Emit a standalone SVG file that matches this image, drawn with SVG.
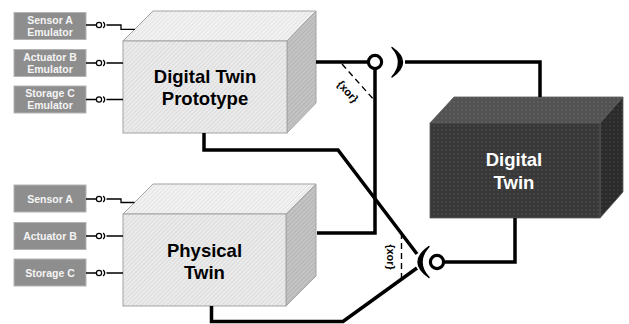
<svg xmlns="http://www.w3.org/2000/svg" width="629" height="324" viewBox="0 0 629 324">
  <defs>
    <!-- fine diagonal hatching for the light boxes -->
    <pattern id="hatchFront" width="3" height="3" patternUnits="userSpaceOnUse" patternTransform="rotate(45)">
      <rect width="3" height="3" fill="#ebebeb"/>
      <line x1="0" y1="0" x2="0" y2="3" stroke="#d0d0d0" stroke-width="1.2"/>
    </pattern>
    <pattern id="hatchTop" width="3" height="3" patternUnits="userSpaceOnUse" patternTransform="rotate(45)">
      <rect width="3" height="3" fill="#f2f2f2"/>
      <line x1="0" y1="0" x2="0" y2="3" stroke="#dcdcdc" stroke-width="1.2"/>
    </pattern>
    <pattern id="hatchSide" width="3" height="3" patternUnits="userSpaceOnUse" patternTransform="rotate(45)">
      <rect width="3" height="3" fill="#c4c4c4"/>
      <line x1="0" y1="0" x2="0" y2="3" stroke="#a9a9a9" stroke-width="1.2"/>
    </pattern>
    <!-- mesh texture for the dark box -->
    <pattern id="meshFront" width="4" height="4" patternUnits="userSpaceOnUse">
      <rect width="4" height="4" fill="#383838"/>
      <circle cx="2" cy="2" r="1.1" fill="#474747"/>
    </pattern>
    <pattern id="meshTop" width="4" height="4" patternUnits="userSpaceOnUse">
      <rect width="4" height="4" fill="#525252"/>
      <circle cx="2" cy="2" r="1.1" fill="#606060"/>
    </pattern>
    <pattern id="meshSide" width="4" height="4" patternUnits="userSpaceOnUse">
      <rect width="4" height="4" fill="#2b2b2b"/>
      <circle cx="2" cy="2" r="1.1" fill="#383838"/>
    </pattern>
  </defs>
  <style>
    .face { stroke: #a3a3a3; stroke-width: 1; }
    .dface { stroke: #5a5a5a; stroke-width: 0.8; }
    .port { fill: #8e8e8e; stroke: #b4b4b4; stroke-width: 1; }
    .portText { font-family: "Liberation Sans", Arial, sans-serif; font-weight: bold; font-size: 10.5px; fill: #f4f4f4; text-anchor: middle; }
    .bigText { font-family: "Liberation Sans", Arial, sans-serif; font-weight: bold; font-size: 18.5px; text-anchor: middle; }
    .thin { fill: none; stroke: #000; stroke-width: 1.3; }
    .thick { fill: none; stroke: #000; stroke-width: 3.5; stroke-linejoin: miter; }
    .ring { fill: #fff; stroke: #000; stroke-width: 3.2; }
    .sring { fill: #fff; stroke: #000; stroke-width: 1.2; }
    .dash { fill: none; stroke: #000; stroke-width: 1.4; stroke-dasharray: 6 4; }
    .xor { font-family: "Liberation Sans", Arial, sans-serif; font-weight: bold; font-size: 11px; fill: #000; text-anchor: middle; }
  </style>

  <!-- emulator ports -->
  <g id="sensor-a-emulator">
    <rect class="port" x="14" y="12.5" width="72" height="27"/>
    <text class="portText" x="50" y="24">Sensor A</text>
    <text class="portText" x="50" y="36">Emulator</text>
  </g>
  <g id="actuator-b-emulator">
    <rect class="port" x="14" y="49.5" width="72" height="27"/>
    <text class="portText" x="50" y="60.5">Actuator B</text>
    <text class="portText" x="50" y="72.5">Emulator</text>
  </g>
  <g id="storage-c-emulator">
    <rect class="port" x="14" y="86" width="72" height="27"/>
    <text class="portText" x="50" y="97">Storage C</text>
    <text class="portText" x="50" y="109">Emulator</text>
  </g>

  <!-- physical ports -->
  <g id="sensor-a">
    <rect class="port" x="14" y="185" width="72" height="27"/>
    <text class="portText" x="50" y="202.5">Sensor A</text>
  </g>
  <g id="actuator-b">
    <rect class="port" x="14" y="222.5" width="72" height="27"/>
    <text class="portText" x="50" y="239.5">Actuator B</text>
  </g>
  <g id="storage-c">
    <rect class="port" x="14" y="259" width="72" height="27"/>
    <text class="portText" x="50" y="276.5">Storage C</text>
  </g>

  <!-- Digital Twin Prototype box -->
  <g id="digital-twin-prototype">
    <polygon class="face" fill="url(#hatchTop)" points="123,41 153,11 316,11 287,41"/>
    <polygon class="face" fill="url(#hatchSide)" points="287,41 316,11 316,103 287,133"/>
    <rect class="face" fill="url(#hatchFront)" x="123" y="41" width="164" height="92"/>
    <text class="bigText" x="205" y="82.5">Digital Twin</text>
    <text class="bigText" x="205" y="104.5">Prototype</text>
  </g>

  <!-- Physical Twin box -->
  <g id="physical-twin">
    <polygon class="face" fill="url(#hatchTop)" points="123,214 153,184 316,184 286,214"/>
    <polygon class="face" fill="url(#hatchSide)" points="286,214 316,184 316,276 286,306"/>
    <rect class="face" fill="url(#hatchFront)" x="123" y="214" width="163" height="92"/>
    <text class="bigText" x="204.5" y="256.5">Physical</text>
    <text class="bigText" x="204.5" y="279">Twin</text>
  </g>

  <!-- Digital Twin box -->
  <g id="digital-twin">
    <polygon class="dface" fill="url(#meshTop)" points="430,123 454,97 623,97 600,123"/>
    <polygon class="dface" fill="url(#meshSide)" points="600,123 623,97 623,192 600,218"/>
    <rect class="dface" fill="url(#meshFront)" x="430" y="123" width="170" height="95"/>
    <text class="bigText" fill="#ffffff" x="514" y="166">Digital</text>
    <text class="bigText" fill="#ffffff" x="514" y="189">Twin</text>
  </g>

  <g id="connectors">
    <!-- emulator lollipops -->
    <path class="thin" d="M86,25 H96.5 M106.5,25 H121 V29.3 H135"/>
    <circle class="sring" cx="99" cy="25" r="2.6"/>
    <path class="thin" d="M103.2,22 Q106.2,25 103.2,28"/>
    <path class="thin" d="M86,63 H96.5 M106.5,63 H123"/>
    <circle class="sring" cx="99" cy="63" r="2.6"/>
    <path class="thin" d="M103.2,60 Q106.2,63 103.2,66"/>
    <path class="thin" d="M86,99.5 H96.5 M106.5,99.5 H123"/>
    <circle class="sring" cx="99" cy="99.5" r="2.6"/>
    <path class="thin" d="M103.2,96.5 Q106.2,99.5 103.2,102.5"/>

    <!-- physical lollipops -->
    <path class="thin" d="M86,199 H96.5 M106.5,199 H121 V202.5 H134.5"/>
    <circle class="sring" cx="99" cy="199" r="2.6"/>
    <path class="thin" d="M103.2,196 Q106.2,199 103.2,202"/>
    <path class="thin" d="M86,236 H96.5 M106.5,236 H123"/>
    <circle class="sring" cx="99" cy="236" r="2.6"/>
    <path class="thin" d="M103.2,233 Q106.2,236 103.2,239"/>
    <path class="thin" d="M86,273 H96.5 M106.5,273 H123"/>
    <circle class="sring" cx="99" cy="273" r="2.6"/>
    <path class="thin" d="M103.2,270 Q106.2,273 103.2,276"/>

    <!-- upper interface: prototype / physical twin to digital twin -->
    <path class="thick" d="M316,62 H368"/>
    <path class="thick" d="M375,69 V233 H317"/>
    <path class="thick" d="M405,62 H540 V97"/>
    <circle class="ring" cx="375" cy="62" r="6.6"/>
    <path d="M392,47.5 Q413,62 392,77 Q405,62 392,47.5 Z" fill="#000" stroke="#000" stroke-width="1.4" stroke-linejoin="round"/>

    <!-- lower interface: digital twin to prototype / physical twin -->
    <path class="thick" d="M204,133 V150 H338 L417,254"/>
    <path class="thick" d="M211.5,306 V321.5 H343 L417,268"/>
    <path class="thick" d="M445,262 H515 V218"/>
    <circle class="ring" cx="437" cy="262" r="6.6"/>
    <path d="M429,246.5 Q407,262 429,277.5 Q415,262 429,246.5 Z" fill="#000" stroke="#000" stroke-width="1.4" stroke-linejoin="round"/>

    <!-- xor constraints -->
    <path class="dash" d="M342,64 L375,101"/>
    <text class="xor" transform="translate(345,94) rotate(48)" x="0" y="0">{xor}</text>
    <path class="dash" d="M401.5,233 V279"/>
    <text class="xor" transform="translate(387,257) rotate(90)" x="0" y="0">{xor}</text>
  </g>
</svg>
